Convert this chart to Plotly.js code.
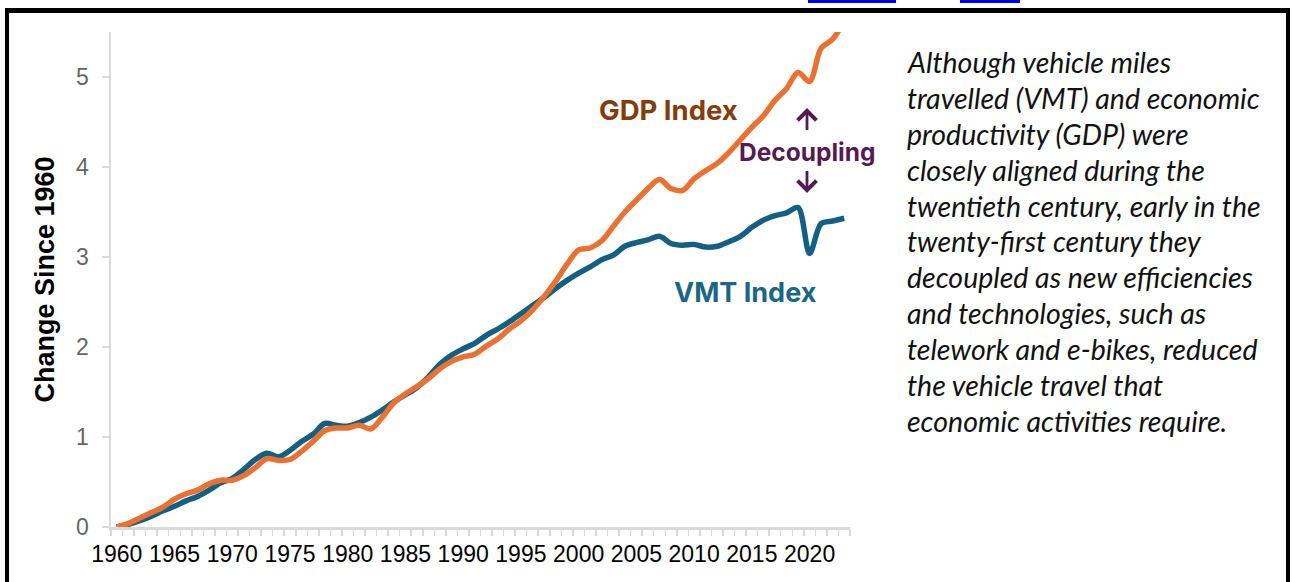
<!DOCTYPE html>
<html>
<head>
<meta charset="utf-8">
<script src="https://cdn.plot.ly/plotly-3.0.1.min.js"></script>
<style>html,body{margin:0;padding:0;background:#fff;}#chart{width:1293px;height:582px;}</style>
</head>
<body>
<div id="chart"></div>
<script>
// ---- data ----
var years = [1960,1961,1962,1963,1964,1965,1966,1967,1968,1969,
             1970,1971,1972,1973,1974,1975,1976,1977,1978,1979,
             1980,1981,1982,1983,1984,1985,1986,1987,1988,1989,
             1990,1991,1992,1993,1994,1995,1996,1997,1998,1999,
             2000,2001,2002,2003,2004,2005,2006,2007,2008,2009,
             2010,2011,2012,2013,2014,2015,2016,2017,2018,2019,
             2020,2021,2022,2023];
var gdpIndex = [0.00,0.04,0.10,0.16,0.22,0.31,0.37,0.41,0.48,0.52,
                0.52,0.57,0.66,0.76,0.74,0.75,0.84,0.95,1.07,1.10,
                1.10,1.13,1.09,1.22,1.38,1.48,1.56,1.65,1.76,1.84,
                1.89,1.92,2.01,2.09,2.20,2.29,2.41,2.56,2.73,2.92,
                3.08,3.10,3.18,3.34,3.50,3.63,3.76,3.86,3.76,3.74,
                3.87,3.96,4.04,4.16,4.30,4.44,4.57,4.74,4.87,5.05,
                4.95,5.32,5.42,5.62];
var vmtIndex = [0.00,0.03,0.07,0.12,0.18,0.23,0.29,0.34,0.41,0.49,
                0.54,0.64,0.75,0.82,0.78,0.85,0.95,1.03,1.15,1.13,
                1.12,1.16,1.22,1.30,1.39,1.47,1.55,1.67,1.81,1.91,
                1.98,2.04,2.13,2.20,2.28,2.37,2.46,2.55,2.65,2.74,
                2.82,2.89,2.97,3.02,3.12,3.16,3.19,3.23,3.15,3.13,
                3.14,3.11,3.12,3.17,3.23,3.33,3.41,3.46,3.49,3.55,
                3.04,3.37,3.40,3.43];
var xTickYears = [1960,1965,1970,1975,1980,1985,1990,1995,2000,2005,2010,2015,2020];
var xTickText = ["1960","1965","1970","1975","1980","1985","1990","1995","2000","2005","2010","2015","2020"];
var yTickVals = [0,1,2,3,4,5];
var seriesNames = ["GDP Index","VMT Index"];
var noteLines = [
  "Although vehicle miles",
  "travelled (VMT) and economic",
  "productivity (GDP) were",
  "closely aligned during the",
  "twentieth century, early in the",
  "twenty-first century they",
  "decoupled as new efficiencies",
  "and technologies, such as",
  "telework and e-bikes, reduced",
  "the vehicle travel that",
  "economic activities require."
];

// ---- layout geometry ----
var W = 1293, H = 582;
var M = {l:111, r:443, t:32, b:55};
var PW = W - M.l - M.r, PH = H - M.t - M.b;
function px(x){ return (x - M.l) / PW; }
function py(y){ return (H - M.b - y) / PH; }

var ORANGE = '#E97132', BLUE = '#156082';
var AXIS = '#D9D9D9';
var PURPLE = '#561A52';

var traces = [
  {x: years, y: vmtIndex, name: seriesNames[1], type:'scatter', mode:'lines',
   line:{color:BLUE, width:5.5, shape:'spline', smoothing:0.9}, hoverinfo:'skip'},
  {x: years, y: gdpIndex, name: seriesNames[0], type:'scatter', mode:'lines',
   line:{color:ORANGE, width:5.5, shape:'spline', smoothing:0.9}, hoverinfo:'skip'}
];

var annotations = [
  {text:'<b>GDP Index</b>', x:px(668), y:py(110), color:'#843C0C', size:27.5},
  {text:'<b>VMT Index</b>', x:px(745), y:py(292), color:'#1B6585', size:27},
  {text:'<b>Decoupling</b>', x:px(807), y:py(152), color:PURPLE, size:24.5}
].map(function(a){
  return {xref:'paper', yref:'paper', x:a.x, y:a.y, xanchor:'center', yanchor:'middle',
          showarrow:false, text:a.text, font:{family:'Inter, Liberation Sans, sans-serif', size:a.size, color:a.color}};
});
// decoupling arrows (drawn as annotation arrows, chevron heads)
[[108, 23], [193, -23]].forEach(function(a){
  annotations.push({xref:'paper', yref:'paper', x:px(807), y:py(a[0]), ax:0, ay:a[1], text:' ',
    font:{size:1}, borderpad:0, showarrow:true, arrowhead:4, arrowsize:1.3, arrowwidth:2.8,
    arrowcolor:PURPLE, standoff:0, startstandoff:0});
});
noteLines.forEach(function(t, i){
  annotations.push({xref:'paper', yref:'paper', x:px(905), y:py(62 + i*35.9),
    xanchor:'left', yanchor:'middle', showarrow:false, text:'<i>'+t+'</i>',
    font:{family:'Lato, Carlito, sans-serif', size:28.5, color:'#111111'}});
});

function rect(x0,y0,x1,y1,color){
  return {type:'rect', xref:'paper', yref:'paper', x0:px(x0), x1:px(x1), y0:py(y1), y1:py(y0),
          fillcolor:color, line:{width:0}, layer:'above'};
}
var shapes = [
  rect(5, 8, 9, 582, '#000'),
  rect(5, 8, 1290, 13, '#000'),
  rect(1286, 8, 1290, 582, '#000'),
  rect(808, 0, 896, 3, '#0000EE'),
  rect(960, 0, 1020, 3, '#0000EE')
];

var layout = {
  width:W, height:H, margin:M, showlegend:false,
  paper_bgcolor:'#fff', plot_bgcolor:'#fff',
  xaxis:{range:[1959.5, 2023.5], tickmode:'array', tickvals:xTickYears, ticktext:xTickText,
         ticks:'', showgrid:false, zeroline:false, showline:true, linecolor:AXIS, linewidth:2.5,
         tickfont:{family:'Liberation Sans, Arial', size:23, color:'#000'}, ticklabelstandoff:5,
         minor:{tickmode:'linear', tick0:1959.5, dtick:1, ticks:'outside', ticklen:6, tickwidth:1.5, tickcolor:AXIS, showgrid:false},
         fixedrange:true},
  yaxis:{range:[0,5.5], tickmode:'array', tickvals:yTickVals, ticks:'outside', ticklen:7, tickwidth:2.5, tickcolor:AXIS,
         showgrid:false, zeroline:false, showline:true, linecolor:AXIS, linewidth:2.5,
         tickfont:{family:'Liberation Sans, Arial', size:23, color:'#666666'}, ticklabelstandoff:8,
         title:{text:'<b>Change Since 1960</b>', font:{family:'Liberation Sans, Arial', size:27, color:'#000'}, standoff:14},
         fixedrange:true},
  yaxis2:{range:[0,5.5], overlaying:'y', side:'left', tickmode:'array', tickvals:yTickVals, ticks:'inside', ticklen:7, tickwidth:2.5,
          tickcolor:AXIS, showticklabels:false, showgrid:false, zeroline:false, showline:false, fixedrange:true},
  annotations:annotations,
  shapes:shapes
};

Plotly.newPlot('chart', traces, layout, {displayModeBar:false, staticPlot:true});
</script>
</body>
</html>
